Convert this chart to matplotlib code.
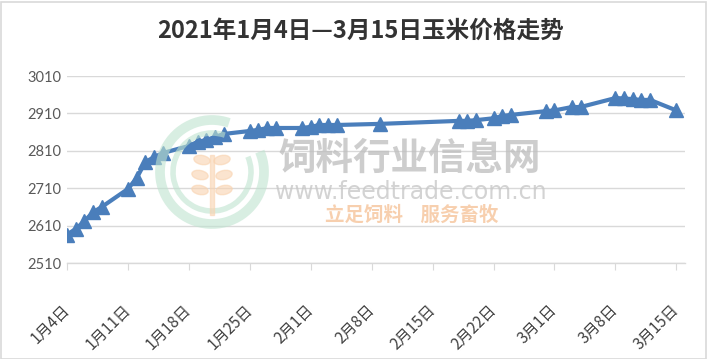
import matplotlib
matplotlib.use("Agg")
import matplotlib.pyplot as plt
from matplotlib.patches import Arc, Ellipse, Rectangle
import datetime as dt

plt.rcParams['font.family'] = ['Noto Sans CJK SC', 'DejaVu Sans']

# data
dates = ['2021-01-04', '2021-01-05', '2021-01-06', '2021-01-07', '2021-01-08',
         '2021-01-11', '2021-01-12', '2021-01-13', '2021-01-14', '2021-01-15',
         '2021-01-18', '2021-01-19', '2021-01-20', '2021-01-21', '2021-01-22',
         '2021-01-25', '2021-01-26', '2021-01-27', '2021-01-28',
         '2021-01-31', '2021-02-01', '2021-02-02', '2021-02-03', '2021-02-04',
         '2021-02-09',
         '2021-02-18', '2021-02-19', '2021-02-20',
         '2021-02-22', '2021-02-23', '2021-02-24',
         '2021-02-28', '2021-03-01', '2021-03-03', '2021-03-04',
         '2021-03-08', '2021-03-09', '2021-03-10', '2021-03-11', '2021-03-12',
         '2021-03-15']
prices = [2586, 2601, 2622, 2646, 2660,
          2708, 2737, 2780, 2793, 2804,
          2823, 2834, 2839, 2847, 2855,
          2863, 2866, 2871, 2871,
          2871, 2874, 2879, 2879, 2879,
          2882,
          2890, 2890, 2892,
          2897, 2903, 2906,
          2916, 2918, 2927, 2927,
          2951, 2950, 2948, 2946, 2946,
          2918]
yticks = [2510, 2610, 2710, 2810, 2910, 3010]
title = '2021年1月4日—3月15日玉米价格走势'

W, H = 707, 359
def px(x, y):
    return x / W, 1 - y / H

x = [dt.datetime.strptime(d, '%Y-%m-%d') for d in dates]

fig = plt.figure(figsize=(7.07, 3.59), dpi=100)
ax = fig.add_axes([67 / W, 1 - 263 / H, (685 - 67) / W, (263 - 76) / H])

ax.plot(x, prices, color='#4A7EBB', linewidth=3, marker='^', markersize=10.5,
        markerfacecolor='#4A7EBB', markeredgecolor='#4A7EBB', zorder=3)

ax.set_ylim(2510, 3010)
ax.set_yticks(yticks)
ax.set_xlim(dt.datetime(2021, 1, 4), dt.datetime(2021, 3, 16))
xt = [dt.datetime(2021, 1, 4) + dt.timedelta(days=7 * i) for i in range(11)]
ax.set_xticks(xt)
ax.set_xticklabels([f'{d.month}月{d.day}日' for d in xt], rotation=45,
                   ha='right', va='center', rotation_mode='anchor',
                   fontsize=11, color='#404040')
ax.tick_params(axis='x', length=5, color='#D9D9D9', pad=27)
ax.tick_params(axis='y', length=0, labelsize=10.5, labelcolor='#595959', pad=4)
for lab in ax.get_yticklabels():
    lab.set_family(['Lato', 'DejaVu Sans'])

ax.grid(axis='y', color='#D9D9D9', linewidth=1)
ax.set_axisbelow(True)
for s in ['top', 'right', 'left']:
    ax.spines[s].set_visible(False)
ax.spines['bottom'].set_color('#D9D9D9')
ax.spines['bottom'].set_linewidth(1)

fig.text(*px(361, 31), title, ha='center', va='center', fontsize=17,
         fontweight='bold', color='#333333')

# watermark
cx, cy = px(212, 172)
for r, lw in [(52, 7), (39, 4)]:
    fig.patches.append(Arc((cx, cy), 2 * r / W, 2 * r / H, theta1=80, theta2=400,
                           transform=fig.transFigure, color='#BFE3CF', lw=lw,
                           alpha=0.6, zorder=4))
for dx_, dy_ in [(-10, 160), (10, 160), (-12, 175), (12, 175), (-12, 190), (12, 190)]:
    fig.patches.append(Ellipse(px(212 + dx_, dy_), 15 / W, 10 / H,
                               angle=-30 if dx_ > 0 else 30,
                               transform=fig.transFigure, color='#F9D3B0',
                               alpha=0.6, zorder=4))
fig.patches.append(Rectangle(px(210, 215), 4 / W, 60 / H, transform=fig.transFigure,
                             color='#F9D3B0', alpha=0.6, zorder=4))
fig.text(*px(410, 158), '饲料行业信息网', ha='center', va='center', fontsize=27,
         fontweight='bold', color='#BDBDBD', alpha=0.75, zorder=4)
fig.text(*px(411, 192), 'www.feedtrade.com.cn', ha='center', va='center',
         fontsize=17, color='#C8C8C8', alpha=0.8, zorder=4,
         family=['DejaVu Sans'])
fig.text(*px(412, 215), '立足饲料    服务畜牧', ha='center', va='center', fontsize=14,
         fontweight='bold', style='italic', color='#F6C49A', alpha=0.8, zorder=4)

# chart border
fig.patches.append(Rectangle((0.5 / W, 0.5 / H), 1 - 2 / W, 1 - 2 / H,
                             transform=fig.transFigure, fill=False,
                             edgecolor='#D9D9D9', linewidth=1.2))

fig.savefig('out.png', dpi=100)
